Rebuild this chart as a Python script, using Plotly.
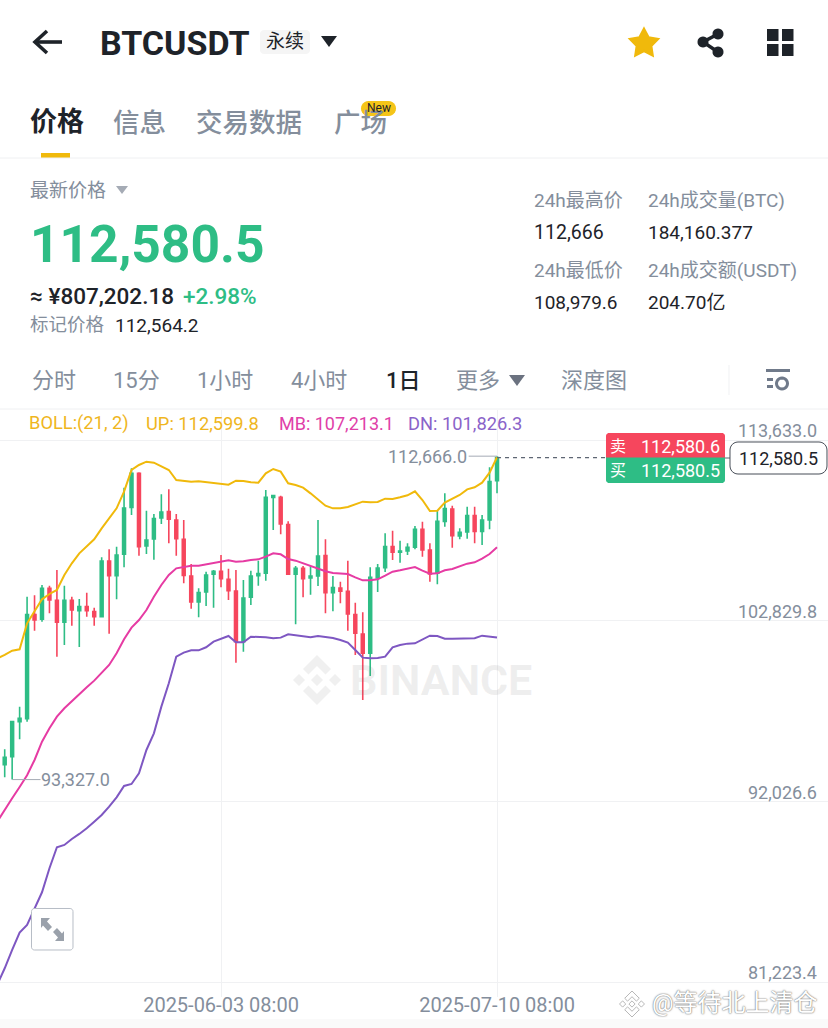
import math
import pandas as pd
import plotly.graph_objects as go

W, H = 828, 1028
FONT = "Roboto, 'Noto Sans CJK SC', sans-serif"
GREEN = "#2EBD85"
RED = "#F6465D"
DARK = "#1E2329"
GRAY = "#848E9C"
YELLOW = "#F0B90B"
MAGENTA = "#E63BA3"
PURPLE = "#7E57C2"
GRID = "#F0F1F3"

# daily candles, first one is 2025-05-05
opens = [94221, 94699, 96792, 96972, 103190, 102911, 104764, 104047, 102731, 104047,
         103429, 103668, 103369, 103070, 106398, 105521, 106797, 109607, 111640, 107295,
         107714, 108969, 109348, 108850, 107694, 105502, 103947, 104545, 105601, 105781,
         105302, 104605, 101575, 104226, 105521, 105661, 110205, 110205, 108571, 105601,
         105960, 105382, 105502, 106717, 104505, 104784, 104585, 103190, 102034, 100878,
         105382, 106000, 107255, 106917, 106996, 107216, 108292, 107056, 105661, 108770,
         109507, 107893, 108132, 109109, 108172, 108850, 111202]
highs = [95138, 96850, 97689, 104266, 104346, 104963, 104924, 105860, 104924, 104266,
         104126, 104505, 103608, 106618, 107096, 107255, 110783, 111939, 111700, 109408,
         109209, 110384, 110683, 109209, 108850, 106219, 104764, 105761, 105860, 106757,
         105940, 105860, 105262, 105820, 106418, 110643, 110305, 110305, 108770, 106099,
         106099, 106099, 108850, 107694, 105502, 105163, 106418, 103907, 103329, 106020,
         106219, 108053, 108212, 107614, 107455, 108491, 108750, 107455, 109408, 110444,
         109707, 108352, 109647, 109647, 109149, 111999, 112666]
lows = [93464, 93327, 95736, 96792, 102233, 102771, 103269, 100678, 101376, 102532,
        101256, 103070, 102532, 103040, 102054, 104106, 106020, 109149, 106717, 106817,
        106478, 108611, 107455, 106717, 105063, 103548, 103030, 103708, 103608, 104824,
        104067, 100320, 100977, 103768, 104924, 105223, 108252, 107993, 105561, 102612,
        104226, 104385, 104904, 103269, 103389, 103867, 102233, 100778, 98088, 99523,
        104545, 105741, 106458, 106299, 106757, 107096, 106657, 105163, 105003, 108451,
        107196, 107694, 107734, 107455, 107355, 108292, 110444]
closes = [94660, 96792, 96991, 103190, 102871, 104764, 104067, 102731, 104047, 103469,
          103668, 103429, 103070, 106398, 105521, 106757, 109567, 111640, 107255, 107654,
          108930, 109328, 108890, 107734, 105541, 103947, 104505, 105561, 105781, 105342,
          104625, 101575, 104186, 105502, 105641, 110205, 110305, 108611, 105601, 105960,
          105342, 105502, 106697, 104505, 104804, 104585, 103230, 102074, 100878, 105422,
          105980, 107255, 106917, 106996, 107216, 108292, 107056, 105621, 108770, 109527,
          107913, 108112, 109109, 108172, 108850, 111142, 112580.5]

# bollinger bands, these start one day earlier (off the left edge)
boll_up = [100579, 100778, 101037, 101117, 102671, 103369, 104106, 104425, 104664, 105561,
           106259, 106857, 107295, 107694, 108352, 108949, 109547, 110544, 111839, 112138,
           112338, 112278, 112078, 111839, 111241, 111182, 111142, 111162, 111122, 111062,
           111002, 110962, 111202, 111182, 111102, 111082, 111640, 111899, 111740, 111042,
           110942, 110783, 110444, 110085, 109707, 109547, 109547, 109627, 109787, 109946,
           109906, 109926, 110125, 110105, 110205, 110325, 110564, 110046, 109388, 109408,
           109886, 110105, 110345, 110683, 110803, 111082, 111680, 112599.8]
boll_mb = [90813, 91471, 92208, 92886, 93583, 94500, 95596, 96394, 97091, 97589,
           98028, 98446, 98845, 99244, 99742, 100180, 100878, 101715, 102412, 102871,
           103469, 104266, 104963, 105561, 105960, 106060, 106119, 106119, 106199, 106299,
           106378, 106438, 106359, 106378, 106458, 106498, 106657, 106857, 106797, 106518,
           106418, 106259, 106099, 105900, 105781, 105681, 105641, 105621, 105422, 105242,
           105242, 105302, 105521, 105761, 105840, 105940, 106040, 105820, 105641, 105661,
           105840, 105920, 106060, 106239, 106319, 106538, 106817, 107213.1]
boll_dn = [81067, 82044, 83140, 84176, 84635, 85631, 86588, 88023, 89279, 89418,
           89777, 90076, 90415, 90813, 91212, 91710, 92268, 92946, 93065, 93703,
           95098, 96095, 97689, 99084, 100678, 100918, 101057, 101057, 101237, 101575,
           101735, 101914, 101535, 101535, 101874, 101874, 101834, 101775, 101815, 102014,
           101954, 101874, 101834, 101914, 101874, 101795, 101675, 101516, 101077, 100619,
           100579, 100599, 100678, 101237, 101376, 101456, 101476, 101715, 101934, 101914,
           101755, 101755, 101775, 101775, 101775, 101934, 101894, 101826.3]

y_ticks = [113633.0, 102829.8, 92026.6, 81223.4]
y_labels = ["113,633.0", "102,829.8", "92,026.6", "81,223.4"]
x_ticks = ["2025-06-03 08:00", "2025-07-10 08:00"]

dates = pd.date_range("2025-05-05 08:00", periods=len(opens), freq="D")
boll_dates = pd.date_range("2025-05-04 08:00", periods=len(boll_up), freq="D")
last_price = closes[-1]
high_price = max(highs)
low_price = min(lows)
high_date = dates[highs.index(high_price)]
low_date = dates[lows.index(low_price)]


# screen pixels to paper coordinates, margins are zero
def px(x):
    return x / W


def py(y):
    return 1 - y / H


def path_of(points, close=True):
    cmds = [("M" if i == 0 else "L") + f"{px(x):.5f},{py(y):.5f}" for i, (x, y) in enumerate(points)]
    return " ".join(cmds) + (" Z" if close else "")


def round_rect(x0, y0, x1, y1, r):
    # corners done as short polylines so the path stays in paper units
    pts = []
    for cx, cy, start in [(x1 - r, y0 + r, -90), (x1 - r, y1 - r, 0), (x0 + r, y1 - r, 90), (x0 + r, y0 + r, 180)]:
        for k in range(7):
            a = math.radians(start + k * 15)
            pts.append((cx + r * math.cos(a), cy + r * math.sin(a)))
    return path_of(pts)


shapes = []
annotations = []


def add_path(d, fill=None, line=None, width=0, layer="above"):
    shapes.append(dict(type="path", xref="paper", yref="paper", path=d, layer=layer,
                       fillcolor=fill if fill else "rgba(0,0,0,0)",
                       line=dict(color=line if line else "rgba(0,0,0,0)", width=width)))


def add_text(x, y, text, size, color, anchor="left", weight=400, **extra):
    # annotations carry a little padding, take it back out
    nudge = {"left": -2.5, "right": 2.5, "center": 0}[anchor]
    annotations.append(dict(xref="paper", yref="paper", x=px(x + nudge), y=py(y), text=text, showarrow=False,
                            xanchor=anchor, yanchor="middle",
                            font=dict(family=FONT, size=size, color=color, weight=weight, **extra)))


def rhombus(cx, cy, r):
    return [(cx, cy - r), (cx + r, cy), (cx, cy + r), (cx - r, cy)]


def binance_logo(cx, cy, s, fill, line=None, width=0, layer="below"):
    # s is half of the logo height
    r = s * 0.24
    for dx, dy in [(0, 0), (-s * 0.72, 0), (s * 0.72, 0)]:
        add_path(path_of(rhombus(cx + dx, cy + dy, r)), fill, line, width, layer)
    for sign in (-1, 1):
        add_path(path_of([(cx, cy + sign * s), (cx + s * 0.56, cy + sign * s * 0.44),
                          (cx + s * 0.34, cy + sign * s * 0.22), (cx, cy + sign * s * 0.56),
                          (cx - s * 0.34, cy + sign * s * 0.22), (cx - s * 0.56, cy + sign * s * 0.44)]),
                 fill, line, width, layer)


# header
add_path(path_of([(35, 42), (62, 42)], False), None, DARK, 3.6)
add_path(path_of([(47, 31), (35, 42), (47, 53)], False), None, DARK, 3.6)
add_text(100, 43, "BTCUSDT", 34, DARK, weight=700)
add_path(round_rect(260, 30, 310, 54, 4), "#F5F5F5")
add_text(285, 42, "永续", 19, DARK, "center")
add_path(path_of([(321, 36), (337, 36), (329, 47)]), DARK)

star = []
for k in range(10):
    r = 14.5 if k % 2 == 0 else 7.5
    a = math.radians(-90 + 36 * k)
    star.append((644 + r * math.cos(a), 43.5 + r * math.sin(a)))
add_path(path_of(star), YELLOW, YELLOW, 2.5)

add_path(path_of([(718, 34), (703, 42), (718, 52)], False), None, DARK, 3.5)
for cx, cy in [(718, 34), (703, 42), (718, 52)]:
    add_path(round_rect(cx - 5.5, cy - 5.5, cx + 5.5, cy + 5.5, 5.5), DARK)
for x0, y0 in [(767, 29), (782, 29), (767, 44), (782, 44)]:
    add_path(path_of([(x0, y0), (x0 + 11.5, y0), (x0 + 11.5, y0 + 12), (x0, y0 + 12)]), DARK)

# tabs
add_text(30, 122, "价格", 27, DARK, weight=700)
add_text(113, 122, "信息", 26.5, GRAY, weight=500)
add_text(196, 122, "交易数据", 26.5, GRAY, weight=500)
add_text(334, 122, "广场", 26.5, GRAY, weight=500)
add_path(round_rect(361, 101, 396, 116, 7.5), "#F5C518")
add_text(378.5, 108.5, "New", 12, DARK, "center")
add_path(path_of([(41, 153), (70, 153), (70, 158), (41, 158)]), YELLOW)
add_path(path_of([(0, 158), (828, 158)], False), None, "#EFF0F2", 1)

# price block
add_text(30, 190, "最新价格", 19, GRAY)
add_path(path_of([(116, 186), (128, 186), (122, 194)]), "#A5ABB5")
add_text(30, 244, "112,580.5", 51.5, GREEN, weight=700)
add_text(30, 296, "≈ ¥807,202.18", 22.5, DARK, weight=500)
add_text(183, 296, "+2.98%", 22.5, GREEN, weight=500)
add_text(30, 325, "标记价格", 18.5, GRAY)
add_text(115, 325, "112,564.2", 19, DARK)
add_text(534, 201, "24h最高价", 19, GRAY)
add_text(648, 201, "24h成交量(BTC)", 19, GRAY)
add_text(534, 233, "112,666", 19.5, DARK)
add_text(648, 233, "184,160.377", 19, DARK)
add_text(534, 271, "24h最低价", 19, GRAY)
add_text(648, 271, "24h成交额(USDT)", 19, GRAY)
add_text(534, 302, "108,979.6", 19, DARK)
add_text(648, 302, "204.70亿", 19, DARK)

# interval row
for x, name in [(32, "分时"), (113, "15分"), (197, "1小时"), (291, "4小时"), (456, "更多"), (561, "深度图")]:
    add_text(x, 380, name, 22, GRAY)
add_text(386, 380, "1日", 22, DARK, weight=500)
add_path(path_of([(509, 375), (525, 375), (517, 386)]), "#6B7280")
add_path(path_of([(729, 365), (729, 395)], False), None, "#F0F1F3", 1)
add_path(path_of([(766, 370.5), (790, 370.5)], False), None, "#707A8A", 3)
add_path(path_of([(767, 379.5), (773, 379.5)], False), None, "#707A8A", 3)
add_path(path_of([(767, 386.5), (773, 386.5)], False), None, "#707A8A", 3)
add_path(round_rect(776.5, 378, 787.5, 389, 5.5), "#FFFFFF", "#707A8A", 3)
add_path(path_of([(0, 409), (828, 409)], False), None, "#EFF0F2", 1)

# boll legend
add_text(29, 423, "BOLL:(21, 2)", 18.3, "#EFB61E")
add_text(146, 423, "UP: 112,599.8", 18.3, "#EFB61E")
add_text(279, 423, "MB: 107,213.1", 18, "#E040A8")
add_text(408, 423, "DN: 101,826.3", 18.3, "#8A63C9")

# watermark
binance_logo(317, 680, 25, "#F0F0F0")
add_text(350, 680, "BINANCE", 43, "rgba(120,120,120,0.12)", weight=700)

# last price line and chips
shapes.append(dict(type="line", xref="x", yref="y", x0=dates[-1], x1=pd.Timestamp("2025-07-25"),
                   y0=last_price, y1=last_price, line=dict(color="#5E6673", width=1.3, dash="4px,4px")))
add_path(path_of([(724, 458), (731, 458)], False), None, "#5E6673", 1)
add_path(round_rect(606, 433, 725, 470, 3), RED)
add_path(round_rect(606, 446, 725, 483, 3), GREEN)
add_path(path_of([(606, 457.5), (725, 457.5), (725, 446), (606, 446)]), RED)
add_text(610, 446, "卖", 16, "#FFFFFF")
add_text(719, 446, "112,580.6", 18, "#FFFFFF", "right")
add_text(610, 471, "买", 16, "#FFFFFF")
add_text(719, 471, "112,580.5", 18, "#FFFFFF", "right")
add_path(round_rect(730, 442, 827, 474, 8), "#FFFFFF", "#474D57", 1)
add_text(778.5, 458.5, "112,580.5", 18, DARK, "center")

# high and low markers
shapes.append(dict(type="line", xref="x", yref="y", x0=high_date - pd.Timedelta(days=3.8), x1=high_date,
                   y0=high_price, y1=high_price, line=dict(color="#A5ABB5", width=1)))
annotations.append(dict(xref="x", yref="y", x=high_date, y=high_price, text=f"{high_price:,.1f}", showarrow=False,
                        xanchor="right", yanchor="middle", xshift=-28,
                        font=dict(family=FONT, size=18, color=GRAY)))
shapes.append(dict(type="line", xref="x", yref="y", x0=low_date, x1=low_date + pd.Timedelta(days=3.8),
                   y0=low_price, y1=low_price, line=dict(color="#A5ABB5", width=1)))
annotations.append(dict(xref="x", yref="y", x=low_date, y=low_price, text=f"{low_price:,.1f}", showarrow=False,
                        xanchor="left", yanchor="middle", xshift=27,
                        font=dict(family=FONT, size=18, color=GRAY)))

# expand button
add_path(round_rect(31.5, 908.5, 73, 950, 3), "#FFFFFF", "#B7BDC6", 1)
add_path(path_of([(41, 918), (50, 918), (47, 921.5), (52, 927), (48, 931), (43, 925.5), (41, 928)]), "#9AA1AB")
add_path(path_of([(64, 941), (55, 941), (58, 937.5), (53, 932), (57, 928), (62, 933.5), (64, 931)]), "#9AA1AB")

# bottom strip and photo watermark
add_path(path_of([(0, 1019), (828, 1019), (828, 1028), (0, 1028)]), "#FAFAFA")
binance_logo(632, 1004, 13, "#FFFFFF", "#B8B8B8", 1, "above")
add_text(652, 1003, "@等待北上清仓", 24, "#FFFFFF", shadow="0 0 2px #777, 0 0 1px #777")

fig = go.Figure()
fig.add_trace(go.Scatter(x=boll_dates, y=boll_up, mode="lines", name="UP", line=dict(color=YELLOW, width=2)))
fig.add_trace(go.Scatter(x=boll_dates, y=boll_mb, mode="lines", name="MB", line=dict(color=MAGENTA, width=2)))
fig.add_trace(go.Scatter(x=boll_dates, y=boll_dn, mode="lines", name="DN", line=dict(color=PURPLE, width=2)))
fig.add_trace(go.Candlestick(
    x=dates, open=opens, high=highs, low=lows, close=closes, whiskerwidth=0,
    increasing=dict(line=dict(color=GREEN, width=1.6), fillcolor=GREEN),
    decreasing=dict(line=dict(color=RED, width=1.6), fillcolor=RED),
))

# one px is about 59.8 usdt, the axis runs a bit past the labelled ticks
usd_per_px = (y_ticks[0] - y_ticks[-1]) / 542
fig.update_layout(
    width=W, height=H,
    margin=dict(l=0, r=0, t=0, b=0, autoexpand=False),
    paper_bgcolor="#FFFFFF", plot_bgcolor="#FFFFFF",
    showlegend=False, boxgap=0.45,
    font=dict(family=FONT),
    shapes=shapes, annotations=annotations,
    xaxis=dict(
        range=["2025-05-04 16:53", "2025-08-23 16:53"], rangeslider=dict(visible=False),
        tickmode="array", tickvals=x_ticks, ticktext=x_ticks, ticklen=0, ticklabelstandoff=-6,
        showgrid=True, gridcolor=GRID, gridwidth=1, zeroline=False, showline=False,
        tickfont=dict(family=FONT, size=20, color=GRAY),
    ),
    yaxis=dict(
        domain=[py(997), py(410)], side="right",
        range=[y_ticks[-1] - 15 * usd_per_px, y_ticks[0] + 30 * usd_per_px],
        tickmode="array", tickvals=y_ticks, ticktext=y_labels, ticklen=0,
        ticklabelposition="inside", ticklabelstandoff=8, ticklabelshift=-9,
        showgrid=True, gridcolor=GRID, gridwidth=1, zeroline=False, showline=False,
        tickfont=dict(family=FONT, size=18, color=GRAY),
    ),
)

fig.write_html("out.html", config=dict(displayModeBar=False),
               post_script="document.body.style.margin='0';document.body.style.overflow='hidden';")
